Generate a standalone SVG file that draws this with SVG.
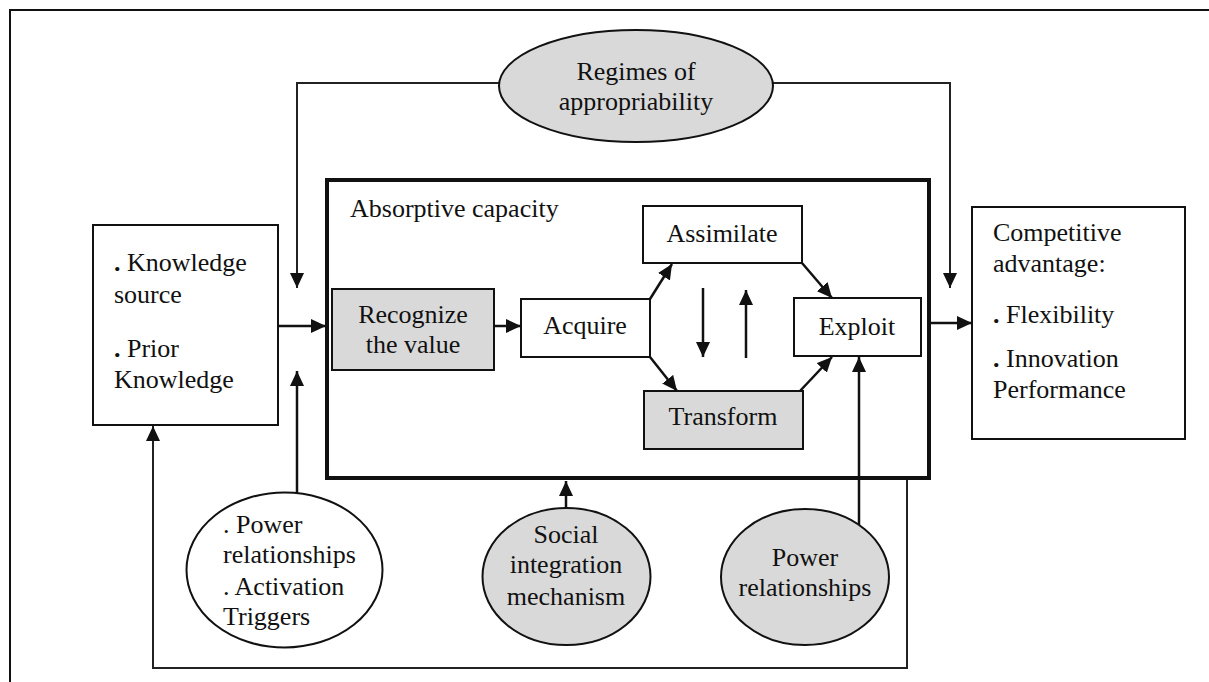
<svg xmlns="http://www.w3.org/2000/svg" width="1209" height="682" viewBox="0 0 1209 682">
<style>
text{font-family:"Liberation Serif","Times New Roman",serif;font-size:26px;fill:#111}
.c{text-anchor:middle}
.box{fill:#fff;stroke:#111;stroke-width:2}
.gray{fill:#d9d9d9;stroke:#111;stroke-width:2}
.conn{fill:none;stroke:#111;stroke-width:2.5}
.thin{fill:none;stroke:#222;stroke-width:2}
.b{font-weight:bold}
</style>
<defs>
<marker id="ah" markerUnits="userSpaceOnUse" markerWidth="16" markerHeight="14" refX="15" refY="7" orient="auto">
<path d="M0,0 L15,7 L0,14 z" fill="#111"/>
</marker>
</defs>
<rect x="10" y="10" width="1210" height="700" fill="none" stroke="#111" stroke-width="2"/>

<g id="connectors">
<path class="thin" d="M499,83 H297 V288" marker-end="url(#ah)"/>
<path class="thin" d="M773,83 H950 V288" marker-end="url(#ah)"/>
<path class="conn" d="M278,326 H326" marker-end="url(#ah)"/>
<path class="conn" d="M297,493 V371" marker-end="url(#ah)"/>
<path class="thin" d="M907,480 V668 H153 V426" marker-end="url(#ah)"/>
<path class="conn" d="M566,508 V481" marker-end="url(#ah)"/>
<path class="conn" d="M859,525 V357" marker-end="url(#ah)"/>
<path class="conn" d="M929,323 H972" marker-end="url(#ah)"/>
<path class="conn" d="M494,326 H521" marker-end="url(#ah)"/>
<path class="conn" d="M650,299 L672,264" marker-end="url(#ah)"/>
<path class="conn" d="M650,357 L677,391" marker-end="url(#ah)"/>
<path class="conn" d="M802,263 L832,298" marker-end="url(#ah)"/>
<path class="conn" d="M800,391 L832,357" marker-end="url(#ah)"/>
<path class="conn" d="M703,288 V357" marker-end="url(#ah)"/>
<path class="conn" d="M746,358 V290" marker-end="url(#ah)"/>
</g>

<g id="absorptive-capacity">
<rect x="327" y="180" width="602" height="298" fill="none" stroke="#111" stroke-width="4"/>
<text x="350" y="217">Absorptive capacity</text>
</g>

<g id="regimes">
<ellipse cx="636" cy="86" rx="137" ry="56" class="gray"/>
<text class="c" x="636" y="80">Regimes of</text>
<text class="c" x="636" y="110">appropriability</text>
</g>

<g id="knowledge">
<rect x="93" y="225" width="185" height="200" class="box"/>
<text x="114" y="271"><tspan class="b">.</tspan> Knowledge</text>
<text x="114" y="303">source</text>
<text x="114" y="357"><tspan class="b">.</tspan> Prior</text>
<text x="114" y="388">Knowledge</text>
</g>

<g id="recognize">
<rect x="332" y="289" width="162" height="81" class="gray"/>
<text class="c" x="413" y="323">Recognize</text>
<text class="c" x="413" y="353">the value</text>
</g>

<g id="acquire">
<rect x="521" y="299" width="129" height="58" class="box"/>
<text class="c" x="585" y="334">Acquire</text>
</g>

<g id="assimilate">
<rect x="643" y="206" width="159" height="57" class="box"/>
<text class="c" x="722" y="242">Assimilate</text>
</g>

<g id="transform">
<rect x="644" y="391" width="159" height="58" class="gray"/>
<text class="c" x="723" y="425">Transform</text>
</g>

<g id="exploit">
<rect x="794" y="298" width="127" height="58" class="box"/>
<text class="c" x="857" y="335">Exploit</text>
</g>

<g id="competitive">
<rect x="972" y="207" width="213" height="232" class="box"/>
<text x="993" y="241">Competitive</text>
<text x="993" y="272">advantage:</text>
<text x="993" y="323"><tspan class="b">.</tspan> Flexibility</text>
<text x="993" y="367"><tspan class="b">.</tspan> Innovation</text>
<text x="993" y="398">Performance</text>
</g>

<g id="power-activation">
<ellipse cx="284.5" cy="570" rx="98" ry="77.5" class="box"/>
<text x="223" y="533">. Power</text>
<text x="223" y="563">relationships</text>
<text x="223" y="595">. Activation</text>
<text x="223" y="625">Triggers</text>
</g>

<g id="social">
<ellipse cx="566.5" cy="576.5" rx="84" ry="68.5" class="gray"/>
<text class="c" x="566" y="543">Social</text>
<text class="c" x="566" y="573">integration</text>
<text class="c" x="566" y="605">mechanism</text>
</g>

<g id="power-relationships">
<ellipse cx="805" cy="577" rx="84" ry="68" class="gray"/>
<text class="c" x="805" y="566">Power</text>
<text class="c" x="805" y="596">relationships</text>
</g>
</svg>
